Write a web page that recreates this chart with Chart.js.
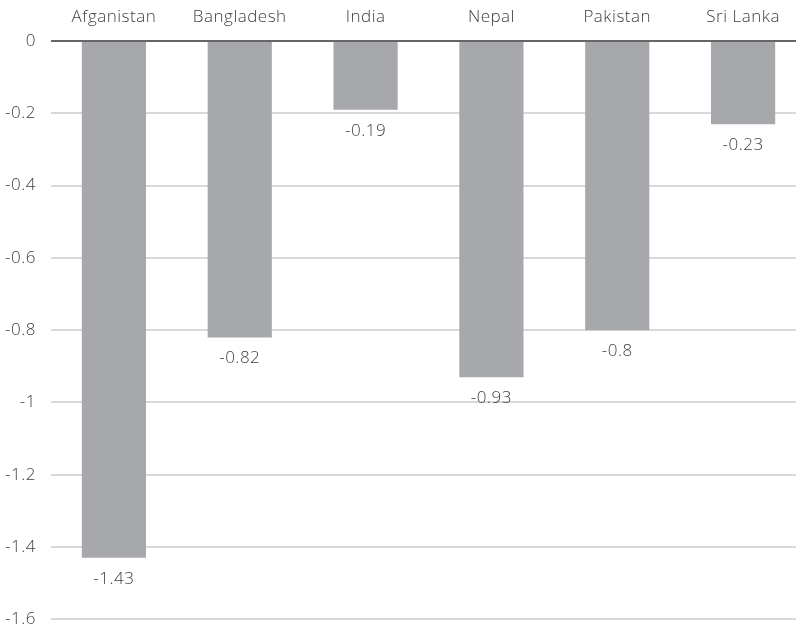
<!DOCTYPE html>
<html>
<head>
<meta charset="utf-8">
<script src="https://cdn.jsdelivr.net/npm/chart.js@4"></script>
<style>
  html, body { margin: 0; padding: 0; background: #fff; overflow: hidden; }
  #wrap { width: 806px; height: 636px; }
</style>
</head>
<body>
<div id="wrap"><canvas id="chart" width="806" height="636"></canvas></div>
<script>
const paises = ["Afganistan", "Bangladesh", "India", "Nepal", "Pakistan", "Sri Lanka"];
const valores = [-1.43, -0.82, -0.19, -0.93, -0.8, -0.23];
const yMin = -1.6;
const yMax = 0;
const yPaso = 0.2;

const fuente = "'Open Sans', 'Noto Sans', sans-serif";
const colorTexto = "#404040";
const espaciado = "0.5px";

// un poco de espacio entre letras para todo el texto del canvas
const espaciadoTexto = {
    id: "espaciadoTexto",
    beforeDraw(chart) {
        chart.ctx.letterSpacing = espaciado;
    },
};

// etiquetas con el valor debajo de cada barra
const etiquetasValor = {
    id: "etiquetasValor",
    afterDatasetsDraw(chart) {
        const ctx = chart.ctx;
        const meta = chart.getDatasetMeta(0);
        ctx.save();
        ctx.letterSpacing = espaciado;
        ctx.font = "300 17px " + fuente;
        ctx.fillStyle = colorTexto;
        ctx.textAlign = "center";
        ctx.textBaseline = "middle";
        meta.data.forEach((bar, i) => {
            ctx.fillText(String(valores[i]), bar.x, bar.y + 21);
        });
        ctx.restore();
    },
};

new Chart(document.getElementById("chart").getContext("2d"), {
    type: "bar",
    data: {
        labels: paises,
        datasets: [
            {
                data: valores,
                backgroundColor: "#a7a8ab",
                barPercentage: 0.51,
                categoryPercentage: 1,
            },
        ],
    },
    options: {
        responsive: false,
        animation: false,
        layout: { padding: { top: 0, right: 0, bottom: 5, left: 0 } },
        plugins: {
            legend: { display: false },
            tooltip: { enabled: false },
        },
        scales: {
            x: {
                position: "top",
                grid: { display: false, drawTicks: false },
                border: { display: false },
                ticks: {
                    color: colorTexto,
                    font: { family: fuente, size: 17, weight: 300 },
                    padding: 14,
                },
                afterFit(s) {
                    s.height = 41;
                },
            },
            y: {
                min: yMin,
                max: yMax,
                grid: {
                    color: (c) => (c.tick && c.tick.value === 0 ? "#666666" : "#d9d9d9"),
                    lineWidth: 2,
                    drawTicks: false,
                },
                border: { display: false },
                ticks: {
                    stepSize: yPaso,
                    color: colorTexto,
                    font: { family: fuente, size: 17, weight: 300, lineHeight: 0.2 },
                    padding: 15,
                    callback: (v) => String(Number(v.toFixed(1))),
                },
                afterFit(s) {
                    s.width = 51;
                },
            },
        },
    },
    plugins: [espaciadoTexto, etiquetasValor],
});
</script>
</body>
</html>
